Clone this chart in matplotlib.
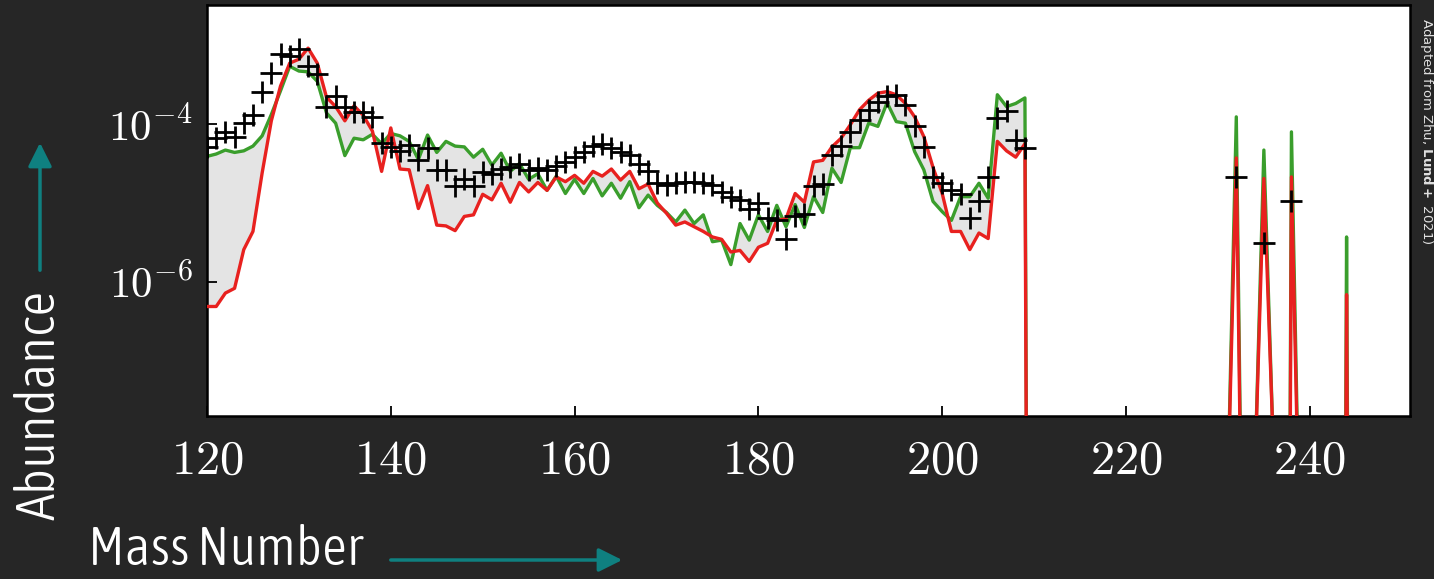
import numpy as np
import matplotlib
matplotlib.use("Agg")
import matplotlib.pyplot as plt
from matplotlib import font_manager

# mass numbers of the main r-process region (one point per A)
mass = np.arange(120, 210)

# log10 abundances, A = 120 ... 209
log_red = [-6.31, -6.31, -6.14, -6.08, -5.59, -5.36, -4.62, -3.96, -3.52, -3.23,
           -3.18, -3.04, -3.23, -3.66, -3.78, -3.96, -3.77, -3.89, -4.09, -4.60,
           -4.05, -4.57, -4.58, -5.07, -4.78, -5.28, -5.29, -5.35, -5.17, -5.15,
           -4.89, -4.96, -4.75, -4.99, -4.74, -4.86, -4.74, -4.84, -4.67, -4.73,
           -4.65, -4.75, -4.60, -4.66, -4.57, -4.71, -4.60, -4.82, -4.76, -5.00,
           -5.13, -5.28, -5.24, -5.30, -5.36, -5.43, -5.46, -5.62, -5.60, -5.74,
           -5.56, -5.51, -5.22, -5.20, -4.88, -4.99, -4.48, -4.46, -4.29, -4.18,
           -4.01, -3.82, -3.70, -3.61, -3.59, -3.63, -3.74, -3.91, -4.16, -4.55,
           -4.88, -5.36, -5.36, -5.59, -5.38, -5.45, -4.22, -4.34, -4.42, -4.25]

log_green = [-4.41, -4.38, -4.33, -4.36, -4.34, -4.28, -4.15, -3.88, -3.58, -3.27,
             -3.33, -3.34, -3.46, -3.86, -3.99, -4.40, -4.18, -4.20, -4.13, -4.25,
             -4.12, -4.15, -4.22, -4.45, -4.14, -4.36, -4.22, -4.28, -4.29, -4.42,
             -4.32, -4.52, -4.37, -4.60, -4.50, -4.70, -4.63, -4.84, -4.66, -4.88,
             -4.70, -4.88, -4.69, -4.91, -4.75, -4.94, -4.73, -5.06, -4.90, -5.03,
             -5.12, -5.24, -5.09, -5.26, -5.15, -5.49, -5.47, -5.78, -5.26, -5.47,
             -5.15, -5.36, -5.03, -5.30, -5.02, -5.31, -4.92, -5.12, -4.56, -4.74,
             -4.30, -4.30, -3.99, -4.03, -3.73, -3.97, -3.99, -4.35, -4.58, -4.98,
             -5.11, -5.22, -4.92, -4.92, -4.75, -4.94, -3.63, -3.78, -3.74, -3.67]

log_obs = [-4.29, -4.18, -4.10, -4.16, -3.99, -3.89, -3.60, -3.36, -3.11, -3.14,
           -3.05, -3.27, -3.37, -3.78, -3.64, -3.79, -3.85, -3.85, -3.91, -4.24,
           -4.29, -4.34, -4.26, -4.46, -4.31, -4.58, -4.58, -4.79, -4.69, -4.79,
           -4.61, -4.63, -4.57, -4.55, -4.51, -4.58, -4.56, -4.58, -4.53, -4.48,
           -4.42, -4.36, -4.28, -4.25, -4.30, -4.35, -4.39, -4.51, -4.60, -4.75,
           -4.77, -4.75, -4.73, -4.73, -4.75, -4.77, -4.86, -4.92, -4.96, -5.07,
           -5.00, -5.19, -5.22, -5.45, -5.16, -5.14, -4.78, -4.76, -4.39, -4.28,
           -4.10, -3.95, -3.82, -3.72, -3.64, -3.63, -3.76, -4.03, -4.29, -4.67,
           -4.75, -4.84, -4.88, -5.19, -4.98, -4.67, -3.93, -3.84, -4.20, -4.31]

# actinide part (232Th, 235U, 238U, 244Pu), gaps far below the axis
mass_act = [210, 231, 232, 233, 234, 235, 236, 237, 238, 239, 243, 244, 245]
log_red_act = [-30, -9.0, -4.43, -13, -8.5, -4.69, -8.0, -30, -4.67, -10, -30, -6.16, -30]
log_green_act = [-30, -9.0, -3.91, -13, -8.5, -4.33, -8.0, -30, -4.10, -10, -30, -5.43, -30]
mass_obs_act = [232, 235, 238]
log_obs_act = [-4.67, -5.51, -4.98]

xticks = [120, 140, 160, 180, 200, 220, 240]
yticks = [1e-6, 1e-4]
ytick_labels = [r"$10^{-6}$", r"$10^{-4}$"]

bg = "#262626"
teal = "#0f8080"
red = "#e8211f"
green = "#3a9e2c"

# the titles are in a narrow upright sans; take a condensed face if one is installed
narrow = [f for f in font_manager.fontManager.ttflist
          if ("condensed" in str(f.stretch) or "Narrow" in f.name
              or "Condensed" in f.name)
          and f.style == "normal" and f.weight in (300, 400, "normal", "light")]
narrow.sort(key=lambda f: 0 if f.weight in (300, "light") else 1)
if narrow:
    label_font = font_manager.FontProperties(fname=narrow[0].fname)
else:
    label_font = font_manager.FontProperties(family="Roboto")

plt.rcParams["mathtext.fontset"] = "cm"

fig = plt.figure(figsize=(14.34, 5.79), dpi=100, facecolor=bg)
ax = fig.add_axes([0.14435, 0.28152, 0.83891, 0.70984])
ax.set_facecolor("white")

A = np.concatenate([mass, mass_act])
y_red = 10.0 ** np.concatenate([log_red, log_red_act])
y_green = 10.0 ** np.concatenate([log_green, log_green_act])

ax.fill_between(A, y_red, y_green, color="#e4e4e4", lw=0, zorder=1)
ax.plot(A, y_green, color=green, lw=2.4, zorder=2)
ax.plot(A, y_red, color=red, lw=2.4, zorder=3)
ax.plot(np.concatenate([mass, mass_obs_act]),
        10.0 ** np.concatenate([log_obs, log_obs_act]),
        ls="none", marker="+", color="black", ms=16, mew=2.0, zorder=4)

ax.set_yscale("log")
ax.set_xlim(120, 250.9)
ax.set_ylim(10 ** -7.696, 10 ** -2.494)
ax.set_xticks(xticks, labels=[f"${t}$" for t in xticks])
ax.set_yticks(yticks, labels=ytick_labels)
ax.yaxis.set_minor_locator(matplotlib.ticker.NullLocator())
ax.tick_params(axis="x", direction="in", length=7, width=1.3, pad=14,
               labelsize=35, labelcolor="white")
ax.tick_params(axis="y", direction="in", length=7, width=1.3, pad=10,
               labelsize=31, labelcolor="white")
for s in ax.spines.values():
    s.set_linewidth(1.8)
    s.set_color("black")

# axis titles with arrows
t_mass = fig.text(88 / 1434, 3 / 579, "Mass Number", color="white", fontsize=38,
                  fontproperties=label_font, ha="left", va="bottom")
t_ab = fig.text(40 / 1434, (579 - 520) / 579, "Abundance", color="white",
                fontproperties=label_font, rotation=90, ha="center", va="bottom")
# fit the title width to the reference (about 275 px for "Mass Number")
r = fig.canvas.get_renderer()
t_mass.set_fontsize(38)
w = t_mass.get_window_extent(r).width
size = min(46, 38 * 275 / w)
t_mass.set_fontsize(size)
t_ab.set_fontsize(size)

fig.add_artist(matplotlib.patches.FancyArrowPatch(
    (388 / 1434, 19 / 579), (625 / 1434, 19 / 579), transform=fig.transFigure,
    arrowstyle="-|>,head_length=0.8,head_width=0.4", mutation_scale=18,
    color=teal, lw=2.5))
fig.add_artist(matplotlib.patches.FancyArrowPatch(
    (40 / 1434, (579 - 273) / 579), (40 / 1434, (579 - 140) / 579),
    transform=fig.transFigure,
    arrowstyle="-|>,head_length=0.8,head_width=0.4", mutation_scale=18,
    color=teal, lw=2.5))

fig.text(1427 / 1434, (579 - 18) / 579, r"Adapted from Zhu, $\mathbf{Lund+}$ 2021)",
         color="#e0e0e0", fontsize=9.5, rotation=-90, ha="center", va="top",
         math_fontfamily="dejavusans")

fig.savefig("out.png", dpi=100, facecolor=bg)
